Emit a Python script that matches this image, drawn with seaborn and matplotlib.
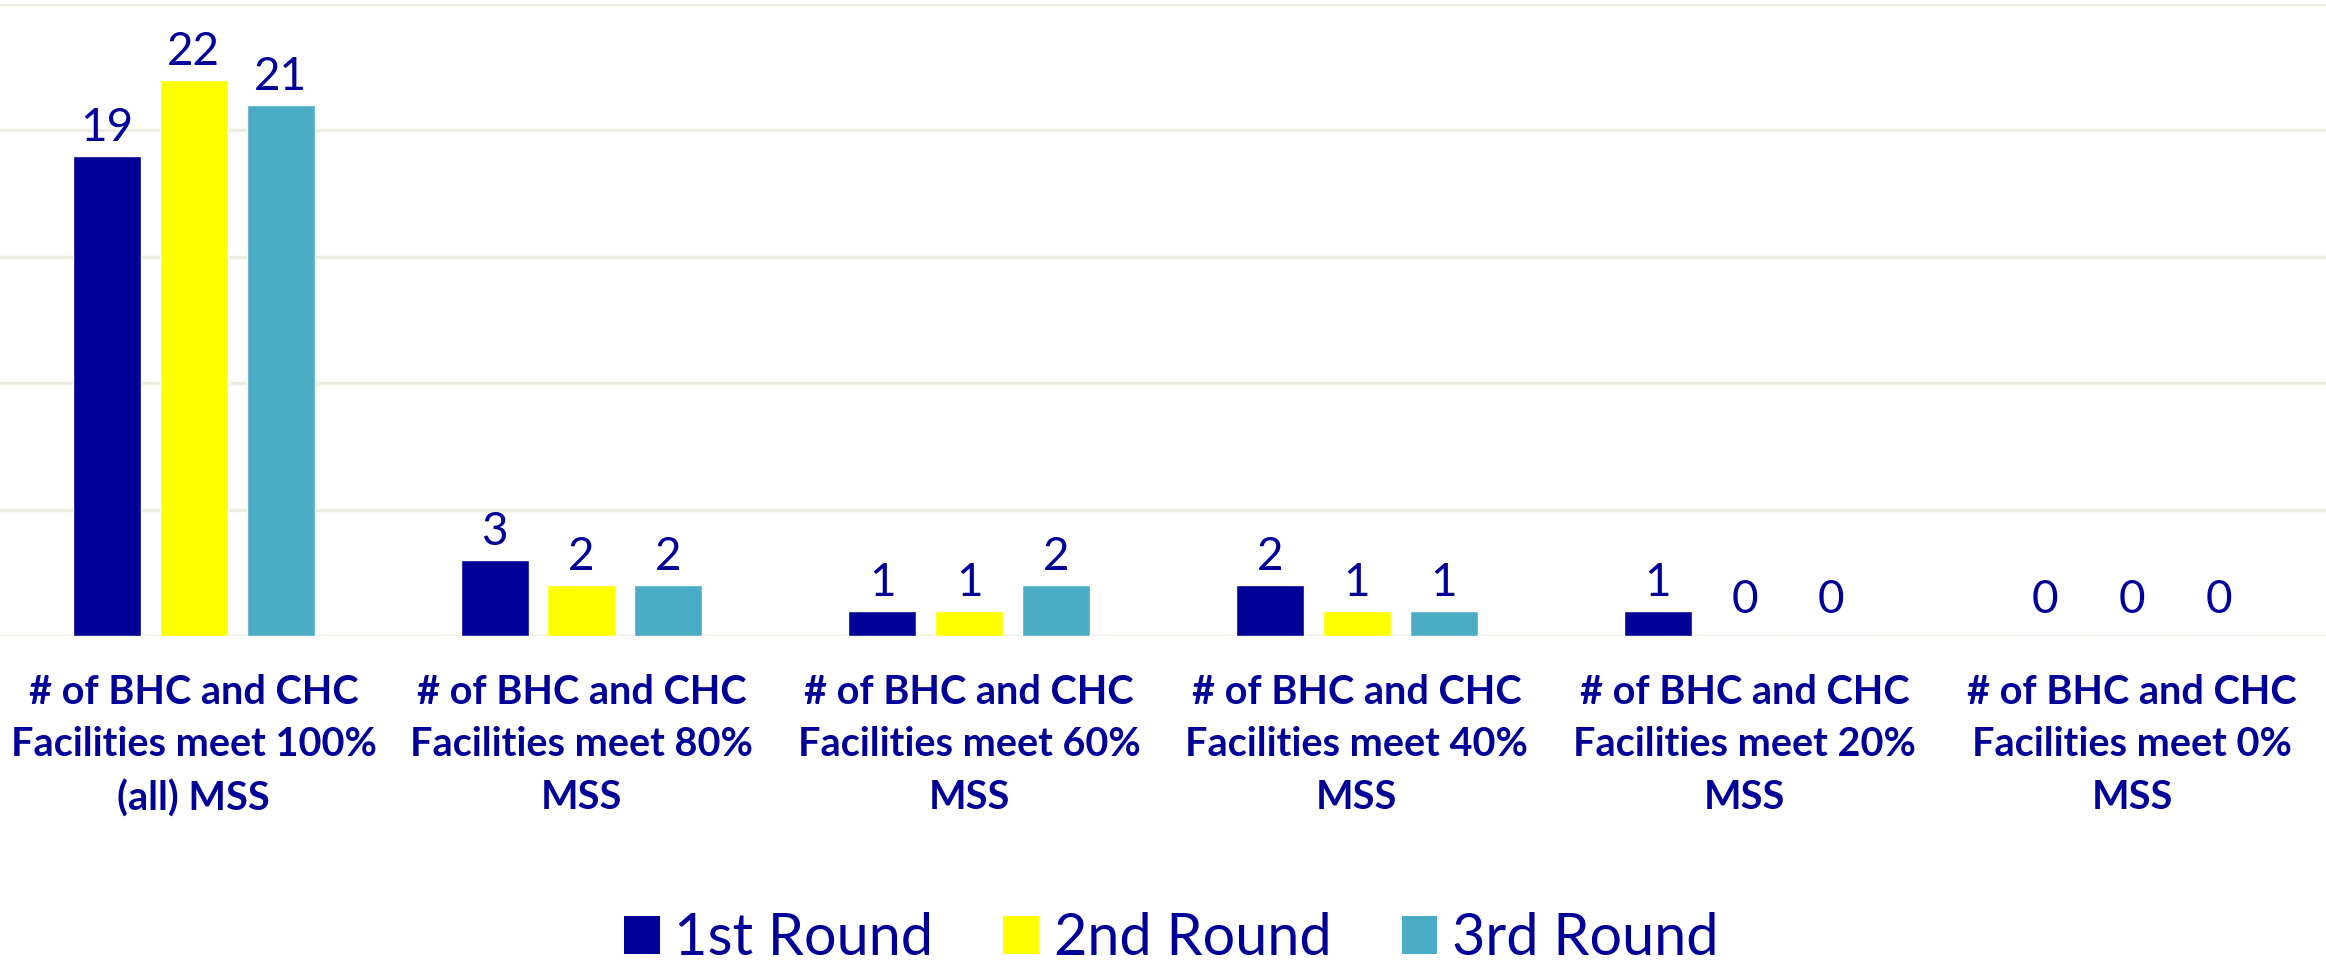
import matplotlib
matplotlib.use("Agg")
import matplotlib.pyplot as plt
import seaborn as sns
import pandas as pd
from matplotlib.patches import Patch

categories = [
    "# of BHC and CHC\nFacilities meet 100%\n(all) MSS",
    "# of BHC and CHC\nFacilities meet 80%\nMSS",
    "# of BHC and CHC\nFacilities meet 60%\nMSS",
    "# of BHC and CHC\nFacilities meet 40%\nMSS",
    "# of BHC and CHC\nFacilities meet 20%\nMSS",
    "# of BHC and CHC\nFacilities meet 0%\nMSS",
]
rounds = ["1st Round", "2nd Round", "3rd Round"]
round1 = [19, 3, 1, 2, 1, 0]
round2 = [22, 2, 1, 1, 0, 0]
round3 = [21, 2, 2, 1, 0, 0]
colors = ["#000099", "#FFFF00", "#4BACC6"]
text_color = "#000099"

rows = []
for r, vals in zip(rounds, [round1, round2, round3]):
    for c, v in zip(categories, vals):
        rows.append({"cat": c, "val": v, "round": r})
df = pd.DataFrame(rows)

sns.set_theme(style="white")
plt.rcParams['font.family'] = ['Lato', 'DejaVu Sans']

fig = plt.figure(figsize=(23.26, 9.66), dpi=100)
ax = fig.add_axes([0.0, 1 - 636 / 966, 1.0, (636 - 4) / 966])

sns.barplot(data=df, x="cat", y="val", hue="round", order=categories,
            hue_order=rounds, palette=colors, saturation=1,
            width=0.672, gap=0.214, legend=False, ax=ax, errorbar=None)

ax.set_ylim(0, 25)
ax.set_xlim(-0.5, len(categories) - 0.5)
ax.set_yticks([0, 5, 10, 15, 20, 25])
ax.set_yticklabels([])
ax.yaxis.grid(True, color="#EEECE1", linewidth=2.5)
ax.set_axisbelow(True)
for s in ax.spines.values():
    s.set_visible(False)
ax.set_xlabel("")
ax.set_ylabel("")
ax.tick_params(axis="both", length=0)
ax.tick_params(axis="x", pad=27)
ax.set_xticks(range(len(categories)))
ax.set_xticklabels(categories, fontsize=28.5, fontweight="bold", color=text_color,
                   linespacing=1.52, multialignment="center")

for cont in ax.containers:
    vals = [b.get_height() for b in cont]
    ax.bar_label(cont, labels=[f"{v:.0f}" if v > 0 else "" for v in vals],
                 padding=5, fontsize=33, color=text_color)
    ax.bar_label(cont, labels=[f"{v:.0f}" if v == 0 else "" for v in vals],
                 padding=11, fontsize=33, color=text_color)

handles = [Patch(facecolor=c, edgecolor="none", label=r) for c, r in zip(colors, rounds)]
leg = fig.legend(handles=handles, loc="center", bbox_to_anchor=(0.5035, 0.028), ncol=3,
                 frameon=False, fontsize=41.5, handlelength=0.62, handleheight=0.64,
                 handletextpad=0.25, columnspacing=1.22)
for t in leg.get_texts():
    t.set_color(text_color)

fig.savefig("out.png", dpi=100)
